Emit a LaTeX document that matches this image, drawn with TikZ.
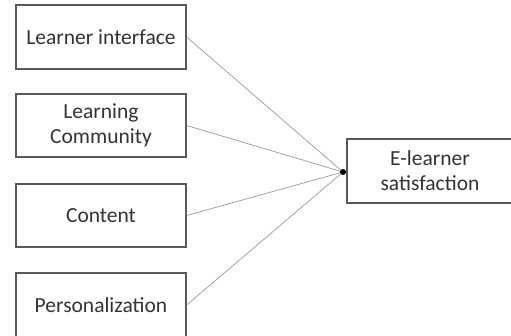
\documentclass[tikz,border=0pt]{standalone}
\usepackage{fontspec}
\setmainfont{Carlito}
\begin{document}
\begin{tikzpicture}[x=1pt,y=-1pt,
  box/.style={draw=black!65, line width=1.3pt, fill=white, inner sep=0pt, align=center, font=\fontsize{21.5}{25}\selectfont, text=black!80},
  link/.style={draw=black!40, line width=0.7pt}]
\useasboundingbox (0,0) rectangle (511,335);
\clip (0,0) rectangle (511,335);
\node[box, minimum width=170pt, minimum height=64pt] (a) at (101,37) {Learner interface};
\node[box, minimum width=170pt, minimum height=63pt] (b) at (101,125.5) {Learning\\Community};
\node[box, minimum width=170pt, minimum height=63pt] (c) at (101,215.5) {Content};
\node[box, minimum width=170pt, minimum height=64pt] (d) at (101,305) {Personalization};
\node[box, minimum width=166pt, minimum height=64pt] (e) at (430,171) {E-learner\\satisfaction};
\coordinate (j) at (343,172);
\foreach \n in {a,b,c,d} \draw[link] (\n.east) -- (j);
\fill (j) circle (3pt);
\end{tikzpicture}
\end{document}
